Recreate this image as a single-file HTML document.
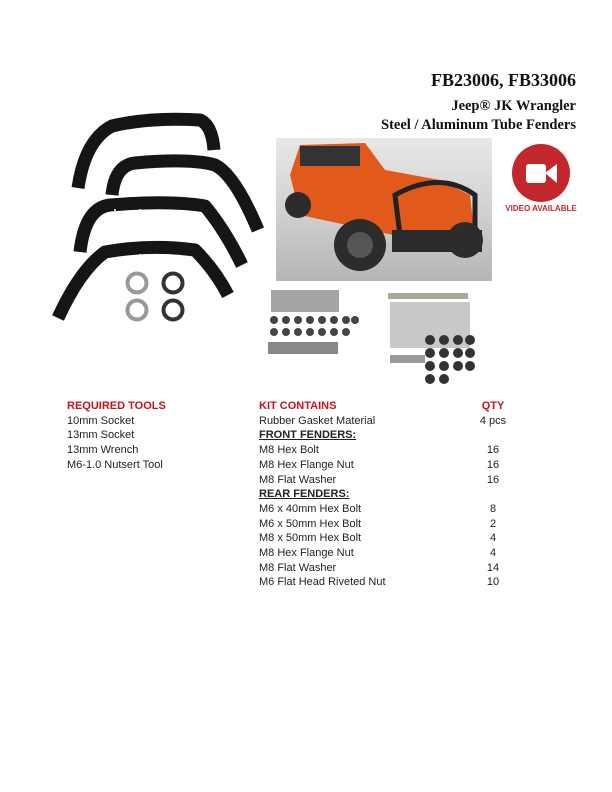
<!DOCTYPE html>
<html><head><meta charset="utf-8"><style>
body{margin:0;background:#fff;}
#p{position:relative;width:612px;height:792px;overflow:hidden;font-family:"Liberation Sans",sans-serif;}
.h{position:absolute;right:36px;font-family:"Liberation Serif",serif;font-weight:bold;color:#111;text-align:right;white-space:nowrap;}
.t{position:absolute;font-size:11px;color:#222;white-space:nowrap;line-height:14.7px;}
.r{color:#c0141c;font-weight:bold;}
.u{font-weight:bold;text-decoration:underline;}
</style></head><body><div id="p">
<div class="h" style="top:70px;font-size:18px;">FB23006, FB33006</div>
<div class="h" style="top:98px;font-size:14.5px;">Jeep® JK Wrangler</div>
<div class="h" style="top:117px;font-size:14.5px;">Steel / Aluminum Tube Fenders</div>

<svg style="position:absolute;left:0;top:0" width="612" height="400">
<g fill="none" stroke="#151515" stroke-width="13" stroke-linejoin="round" stroke-linecap="butt">
<path d="M78 188 Q85 140 112 126 Q150 117 200 120 Q212 125 214 150"/>
<path d="M112 195 Q115 165 135 163 Q190 158 215 165 Q235 175 258 230"/>
<path d="M80 252 Q85 208 110 205 Q170 200 205 206 Q225 230 242 265"/>
<path d="M58 318 Q80 270 105 252 Q150 244 195 250 Q215 270 228 295"/>
</g>
<g fill="#fff"><circle cx="140" cy="130" r="1"/><circle cx="160" cy="128" r="1"/><circle cx="185" cy="130" r="1"/><circle cx="140" cy="172" r="1"/><circle cx="165" cy="172" r="1"/><circle cx="115" cy="210" r="1"/><circle cx="140" cy="210" r="1"/><circle cx="140" cy="255" r="1"/><circle cx="165" cy="255" r="1"/></g>
<g fill="none" stroke-width="4">
<circle cx="137" cy="283" r="9.5" stroke="#999"/><circle cx="173" cy="283" r="9.5" stroke="#333"/>
<circle cx="137" cy="310" r="9.5" stroke="#999"/><circle cx="173" cy="310" r="9.5" stroke="#333"/>
</g>
<defs><linearGradient id="g" x1="0" y1="0" x2="0" y2="1"><stop offset="0" stop-color="#e8e8e8"/><stop offset="0.55" stop-color="#cfcfcf"/><stop offset="1" stop-color="#b5b5b5"/></linearGradient></defs>
<rect x="276" y="138" width="216" height="143" fill="url(#g)"/>
<path d="M290 175 L300 145 L365 143 L385 170 L440 180 L470 195 L475 240 L440 245 L300 215 Z" fill="#e2591c"/>
<rect x="300" y="146" width="60" height="20" fill="#333"/>
<path d="M395 195 Q440 170 475 195 L475 240 Q440 250 400 235 Z" fill="none" stroke="#222" stroke-width="5"/>
<rect x="392" y="230" width="90" height="22" fill="#2a2a2a"/>
<circle cx="360" cy="245" r="26" fill="#2c2c2c"/><circle cx="360" cy="245" r="13" fill="#555"/>
<circle cx="298" cy="205" r="13" fill="#2c2c2c"/>
<circle cx="465" cy="240" r="18" fill="#2c2c2c"/>
<circle cx="541" cy="173" r="29" fill="#c1272d"/>
<rect x="526" y="164" width="20" height="19" rx="3" fill="#fff"/><path d="M545 173 L557 164 L557 183 Z" fill="#fff"/>
<text x="541" y="211" font-family="Liberation Sans" font-weight="bold" font-size="8" fill="#c1272d" text-anchor="middle">VIDEO AVAILABLE</text>
<rect x="271" y="290" width="68" height="22" fill="#a5a5a5"/>
<g fill="#444">
<circle cx="274" cy="320" r="4"/><circle cx="286" cy="320" r="4"/><circle cx="298" cy="320" r="4"/><circle cx="310" cy="320" r="4"/><circle cx="322" cy="320" r="4"/><circle cx="334" cy="320" r="4"/><circle cx="346" cy="320" r="4"/><circle cx="355" cy="320" r="4"/>
<circle cx="274" cy="332" r="4"/><circle cx="286" cy="332" r="4"/><circle cx="298" cy="332" r="4"/><circle cx="310" cy="332" r="4"/><circle cx="322" cy="332" r="4"/><circle cx="334" cy="332" r="4"/><circle cx="346" cy="332" r="4"/>
</g>
<rect x="268" y="342" width="70" height="12" fill="#888"/>
<rect x="388" y="293" width="80" height="6" fill="#aa9"/>
<rect x="390" y="302" width="80" height="46" fill="#b0b0b0" opacity="0.7"/>
<rect x="390" y="355" width="35" height="8" fill="#999"/>
<g fill="#333">
<circle cx="430" cy="340" r="5"/><circle cx="444" cy="340" r="5"/><circle cx="458" cy="340" r="5"/><circle cx="470" cy="340" r="5"/>
<circle cx="430" cy="353" r="5"/><circle cx="444" cy="353" r="5"/><circle cx="458" cy="353" r="5"/><circle cx="470" cy="353" r="5"/>
<circle cx="430" cy="366" r="5"/><circle cx="444" cy="366" r="5"/><circle cx="458" cy="366" r="5"/><circle cx="470" cy="366" r="5"/>
<circle cx="430" cy="379" r="5"/><circle cx="444" cy="379" r="5"/>
</g>
</svg>

<div class="t" style="left:67px;top:399px;"><span class="r">REQUIRED TOOLS</span><br>10mm Socket<br>13mm Socket<br>13mm Wrench<br>M6-1.0 Nutsert Tool</div>
<div class="t" style="left:259px;top:399px;"><span class="r">KIT CONTAINS</span><br>Rubber Gasket Material<br><span class="u">FRONT FENDERS:</span><br>M8 Hex Bolt<br>M8 Hex Flange Nut<br>M8 Flat Washer<br><span class="u">REAR FENDERS:</span><br>M6 x 40mm Hex Bolt<br>M6 x 50mm Hex Bolt<br>M8 x 50mm Hex Bolt<br>M8 Hex Flange Nut<br>M8 Flat Washer<br>M6 Flat Head Riveted Nut</div>
<div class="t" style="left:470px;width:46px;text-align:center;top:399px;"><span class="r">QTY</span><br>4 pcs<br>&nbsp;<br>16<br>16<br>16<br>&nbsp;<br>8<br>2<br>4<br>4<br>14<br>10</div>
</div></body></html>
